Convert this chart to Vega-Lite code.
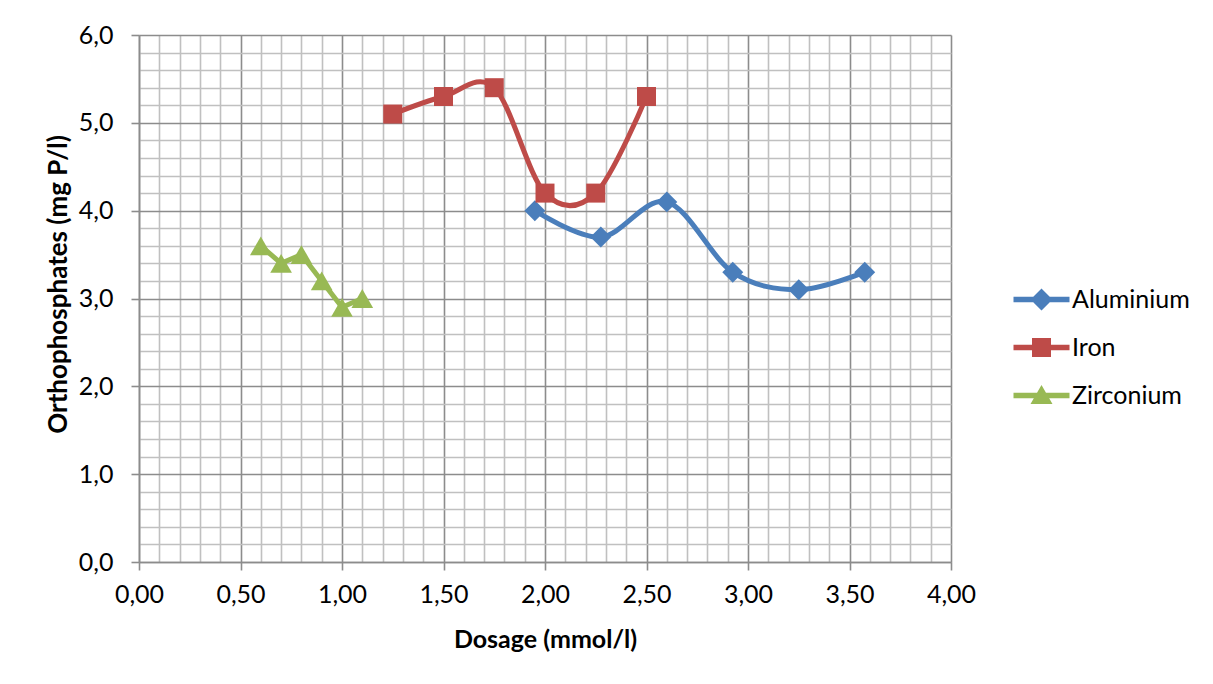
{
  "$schema": "https://vega.github.io/schema/vega-lite/v6.json",
  "width": 812,
  "height": 527,
  "autosize": {"type": "none"},
  "padding": {"left": 139, "top": 35, "right": 262, "bottom": 122},
  "config": {"font": "Lato", "view": {"stroke": null}},
  "data": {
    "values": [
      {"series": "Aluminium", "dose": 1.95, "p": 4.0},
      {"series": "Aluminium", "dose": 2.275, "p": 3.7},
      {"series": "Aluminium", "dose": 2.6, "p": 4.1},
      {"series": "Aluminium", "dose": 2.925, "p": 3.3},
      {"series": "Aluminium", "dose": 3.25, "p": 3.1},
      {"series": "Aluminium", "dose": 3.575, "p": 3.3},
      {"series": "Iron", "dose": 1.25, "p": 5.1},
      {"series": "Iron", "dose": 1.5, "p": 5.3},
      {"series": "Iron", "dose": 1.75, "p": 5.4},
      {"series": "Iron", "dose": 2.0, "p": 4.2},
      {"series": "Iron", "dose": 2.25, "p": 4.2},
      {"series": "Iron", "dose": 2.5, "p": 5.3},
      {"series": "Zirconium", "dose": 0.6, "p": 3.6},
      {"series": "Zirconium", "dose": 0.7, "p": 3.4},
      {"series": "Zirconium", "dose": 0.8, "p": 3.5},
      {"series": "Zirconium", "dose": 0.9, "p": 3.2},
      {"series": "Zirconium", "dose": 1.0, "p": 2.9},
      {"series": "Zirconium", "dose": 1.1, "p": 3.0}
    ]
  },
  "encoding": {
    "x": {
      "field": "dose",
      "type": "quantitative",
      "scale": {"domain": [0, 4], "nice": false, "zero": false},
      "axis": {
        "values": [0,0.1,0.2,0.3,0.4,0.5,0.6,0.7,0.8,0.9,1,1.1,1.2,1.3,1.4,1.5,1.6,1.7,1.8,1.9,2,2.1,2.2,2.3,2.4,2.5,2.6,2.7,2.8,2.9,3,3.1,3.2,3.3,3.4,3.5,3.6,3.7,3.8,3.9,4],
        "labelExpr": "abs(datum.value*2-round(datum.value*2))<0.001 ? replace(format(datum.value,'.2f'),'.',',') : ''",
        "labelOverlap": false,
        "labelBound": false,
        "labelFlush": false,
        "labelFontSize": 25,
        "labelColor": "#000000",
        "labelPadding": 12,
        "grid": true,
        "gridColor": {"condition": {"test": "abs(datum.value*2-round(datum.value*2))<0.001", "value": "#8C8C8C"}, "value": "#C0C0C0"},
        "gridWidth": 1.6,
        "gridOpacity": 1,
        "tickColor": "#8C8C8C",
        "tickOpacity": {"condition": {"test": "abs(datum.value*2-round(datum.value*2))<0.001", "value": 1}, "value": 0},
        "tickSize": 8,
        "tickWidth": 1.6,
        "domainColor": "#8C8C8C",
        "domainWidth": 1.6,
        "title": "Dosage (mmol/l)",
        "titleFontSize": 25,
        "titleFontWeight": "bold",
        "titleColor": "#000000",
        "titleY": 77,
        "titleBaseline": "middle"
      }
    },
    "y": {
      "field": "p",
      "type": "quantitative",
      "scale": {"domain": [0, 6], "nice": false},
      "axis": {
        "values": [0,0.2,0.4,0.6,0.8,1,1.2,1.4,1.6,1.8,2,2.2,2.4,2.6,2.8,3,3.2,3.4,3.6,3.8,4,4.2,4.4,4.6,4.8,5,5.2,5.4,5.6,5.8,6],
        "labelExpr": "abs(datum.value-round(datum.value))<0.001 ? replace(format(datum.value,'.1f'),'.',',') : ''",
        "labelOverlap": false,
        "labelBound": false,
        "labelFlush": false,
        "labelFontSize": 25,
        "labelColor": "#000000",
        "labelPadding": 18,
        "grid": true,
        "gridColor": {"condition": {"test": "abs(datum.value-round(datum.value))<0.001", "value": "#8C8C8C"}, "value": "#C0C0C0"},
        "gridWidth": 1.6,
        "gridOpacity": 1,
        "tickColor": "#8C8C8C",
        "tickOpacity": {"condition": {"test": "abs(datum.value-round(datum.value))<0.001", "value": 1}, "value": 0},
        "tickSize": 8,
        "tickWidth": 1.6,
        "domainColor": "#8C8C8C",
        "domainWidth": 1.6,
        "title": "Orthophosphates (mg P/l)",
        "titleFontSize": 26,
        "titleFontWeight": "bold",
        "titleColor": "#000000",
        "titleX": -81,
        "titleY": 249,
        "titleAngle": -90,
        "titleAlign": "center",
        "titleBaseline": "middle"
      }
    },
    "color": {
      "field": "series",
      "type": "nominal",
      "scale": {"domain": ["Aluminium", "Iron", "Zirconium"], "range": ["#4A7EBB", "#BE4B48", "#98B954"]},
      "legend": {
        "title": null,
        "orient": "none",
        "legendX": 890,
        "legendY": 252,
        "padding": 0,
        "symbolSize": 400,
        "labelFontSize": 25,
        "labelColor": "#000000",
        "labelOffset": 18,
        "rowPadding": 22,
        "encode": {
          "symbols": {
            "update": {
              "shape": {"signal": "datum.value === 'Aluminium' ? 'M-2.8,-0.27H2.8V0.27H-2.8Z M0,-1.1L1.1,0L0,1.1L-1.1,0Z' : datum.value === 'Iron' ? 'M-2.8,-0.27H2.8V0.27H-2.8Z M-0.95,-0.95H0.95V0.95H-0.95Z' : 'M-2.8,-0.27H2.8V0.27H-2.8Z M0,-1.05L1.1,0.85L-1.1,0.85Z'"},
              "fill": {"signal": "scale('color', datum.value)"},
              "fillOpacity": {"value": 1},
              "opacity": {"value": 1},
              "strokeWidth": {"value": 0}
            }
          }
        }
      }
    }
  },
  "layer": [
    {
      "transform": [{"filter": "datum.series !== 'Zirconium'"}],
      "mark": {"type": "line", "interpolate": "cardinal", "strokeWidth": 5}
    },
    {
      "transform": [{"filter": "datum.series === 'Zirconium'"}],
      "mark": {"type": "line", "strokeWidth": 5}
    },
    {
      "transform": [{"filter": "datum.series === 'Aluminium'"}],
      "mark": {"type": "point", "shape": "diamond", "size": 440, "filled": true, "opacity": 1, "strokeWidth": 0}
    },
    {
      "transform": [{"filter": "datum.series === 'Iron'"}],
      "mark": {"type": "point", "shape": "square", "size": 361, "filled": true, "opacity": 1, "strokeWidth": 0}
    },
    {
      "transform": [{"filter": "datum.series === 'Zirconium'"}],
      "mark": {"type": "point", "shape": "triangle-up", "size": 470, "filled": true, "opacity": 1, "strokeWidth": 0}
    }
  ]
}
